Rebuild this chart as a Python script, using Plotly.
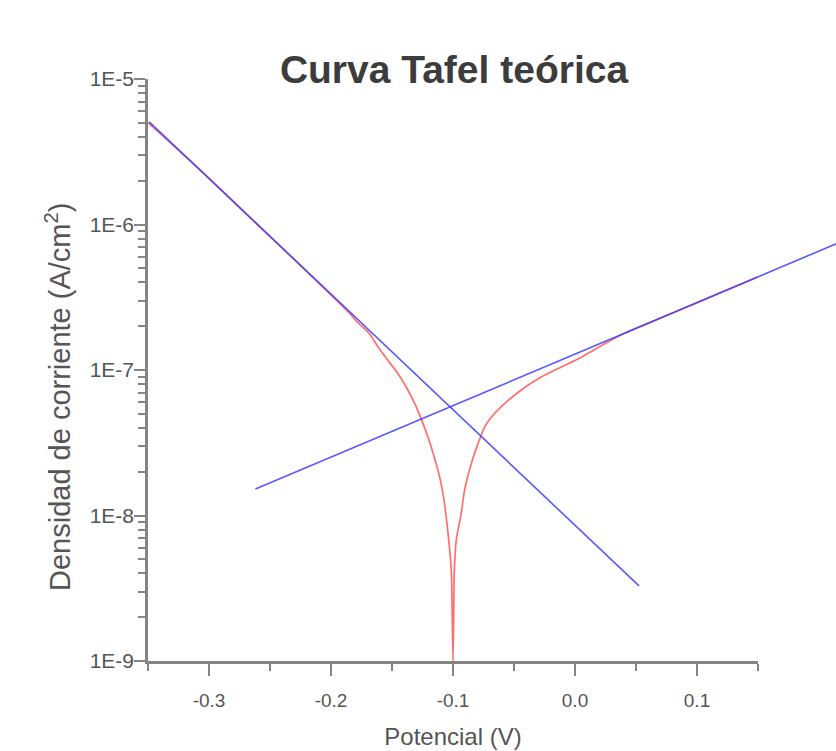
import plotly.graph_objects as go

# ---- data ----
red_potential = [-0.350, -0.307, -0.266, -0.225, -0.192, -0.185, -0.1782, -0.1686, -0.1617, -0.1535,
                 -0.1453, -0.1370, -0.1302, -0.1247, -0.1206, -0.1179, -0.1110, -0.1074,
                 -0.1041, -0.1014, -0.1006, -0.1000,
                 -0.0994, -0.0990, -0.0973, -0.0932, -0.0905, -0.0849, -0.0794, -0.0740,
                 -0.0658, -0.0575, -0.0493, -0.0383, -0.0273, -0.0164, -0.0053, 0.0057,
                 0.0165, 0.0400, 0.0632, 0.1044, 0.1496]
red_current = [5.01e-6, 2.36e-6, 1.11e-6, 5.22e-7, 2.82e-7, 2.47e-7, 2.13e-7, 1.78e-7, 1.45e-7, 1.17e-7,
               9.49e-8, 7.29e-8, 5.60e-8, 4.31e-8, 3.48e-8, 2.97e-8, 1.85e-8, 1.28e-8,
               7.59e-9, 4.22e-9, 2.00e-9, 1.0e-9,
               2.04e-9, 4.01e-9, 6.79e-9, 1.04e-8, 1.50e-8, 2.29e-8, 3.13e-8, 4.07e-8,
               5.04e-8, 5.90e-8, 6.73e-8, 7.88e-8, 9.00e-8, 1.00e-7, 1.11e-7, 1.23e-7,
               1.39e-7, 1.78e-7, 2.15e-7, 3.01e-7, 4.36e-7]

cathodic_potential = [-0.349, 0.0525]
cathodic_current = [5.07e-6, 3.28e-9]

anodic_potential = [-0.262, 0.220]
anodic_current = [1.52e-8, 7.73e-7]

y_tickvals = [1e-9, 1e-8, 1e-7, 1e-6, 1e-5]
y_ticktext = ["1E-9", "1E-8", "1E-7", "1E-6", "1E-5"]
x_tickvals = [-0.3, -0.2, -0.1, 0.0, 0.1]
x_ticktext = ["-0.3", "-0.2", "-0.1", "0.0", "0.1"]

title_text = "Curva Tafel teórica"
x_title = "Potencial (V)"
y_title = "Densidad de corriente (A/cm<sup>2</sup>)"

# ---- layout geometry ----
W, H = 836, 751
L, R, T, B = 148, 0, 79, 90
plot_w = W - L - R
plot_h = H - T - B
main_right_px = 758
main_frac = (main_right_px - L) / plot_w
x_range = [-0.35, 0.15]
px_per_v = (main_right_px - L) / (x_range[1] - x_range[0])
x2_range = [x_range[0], x_range[0] + plot_w / px_per_v]

FONT = "Liberation Sans, Arial, sans-serif"
AXIS_COLOR = "#848484"
TXT = "#555555"

fig = go.Figure()
fig.add_trace(go.Scatter(x=red_potential, y=red_current, mode="lines",
                         line=dict(color="rgba(255,50,50,0.7)", width=1.7, shape="spline",
                                   smoothing=0.6),
                         xaxis="x", yaxis="y", showlegend=False))
fig.add_trace(go.Scatter(x=cathodic_potential, y=cathodic_current, mode="lines",
                         line=dict(color="rgba(60,60,255,0.85)", width=1.6),
                         xaxis="x", yaxis="y", showlegend=False))
fig.add_trace(go.Scatter(x=anodic_potential, y=anodic_current, mode="lines",
                         line=dict(color="rgba(60,60,255,0.85)", width=1.6),
                         xaxis="x2", yaxis="y", showlegend=False))

fig.update_layout(
    width=W, height=H,
    margin=dict(l=L, r=R, t=T, b=B, autoexpand=False),
    paper_bgcolor="white", plot_bgcolor="rgba(0,0,0,0)",
    font=dict(family=FONT, color=TXT),
    title=dict(text="<b>" + title_text + "</b>", x=(454 - L) / plot_w, xref="paper",
               xanchor="center", y=1 - 69 / H, yref="container", yanchor="middle",
               font=dict(family=FONT, size=39, color="#3c3c3c")),
    xaxis=dict(domain=[0, main_frac], range=x_range, anchor="y",
               showgrid=False, zeroline=False, showline=True, linecolor=AXIS_COLOR, linewidth=2.5,
               ticks="outside", ticklen=12, tickwidth=2, tickcolor=AXIS_COLOR,
               tickvals=x_tickvals, ticktext=x_ticktext, ticklabelstandoff=8,
               tickfont=dict(size=19, color=TXT),
               minor=dict(ticks="outside", ticklen=7, tickwidth=2, tickcolor=AXIS_COLOR, dtick=0.05),
               title=dict(text=x_title, font=dict(size=24, color=TXT), standoff=19)),
    xaxis2=dict(domain=[0, 1], range=x2_range, anchor="y", visible=False,
                showgrid=False, zeroline=False),
    yaxis=dict(type="log", range=[-9, -5], anchor="x", domain=[0, 1],
               showgrid=False, zeroline=False, showline=True, linecolor=AXIS_COLOR, linewidth=2.5,
               ticks="outside", ticklen=11, tickwidth=2, tickcolor=AXIS_COLOR,
               tickvals=y_tickvals, ticktext=y_ticktext, ticklabelstandoff=-4,
               tickfont=dict(size=21, color=TXT),
               minor=dict(ticks="outside", ticklen=7, tickwidth=2, tickcolor=AXIS_COLOR, dtick="D1")),
    annotations=[dict(text=y_title, textangle=-90, showarrow=False,
                      xref="paper", yref="paper",
                      x=(58 - L) / plot_w, y=1 - (397 - T) / plot_h,
                      xanchor="center", yanchor="middle",
                      font=dict(family=FONT, size=29, color=TXT))],
)

fig.write_html("out.html")
